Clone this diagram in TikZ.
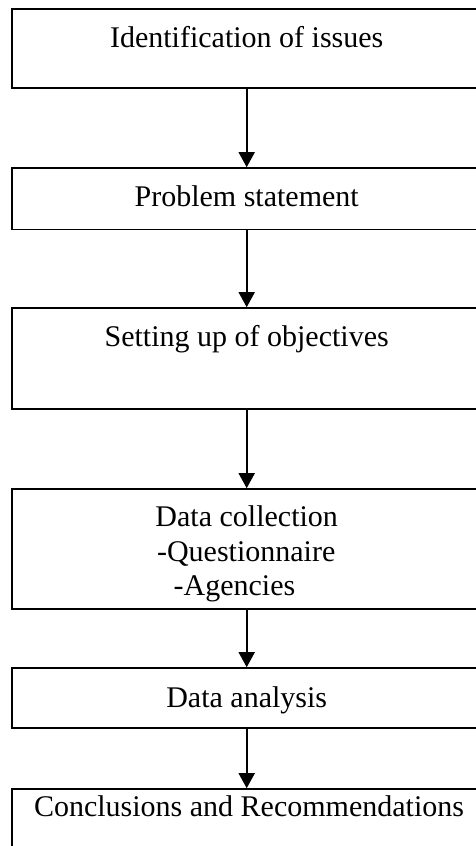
\documentclass[tikz,border=0pt]{standalone}
\usepackage{fontspec}
\setmainfont{Liberation Serif}
\usetikzlibrary{arrows.meta}
\begin{document}
\begin{tikzpicture}[x=1pt,y=-1pt,
  stagebox/.style={draw=black,line width=1.6pt,rectangle,inner sep=0pt,minimum width=470pt},
  lbl/.style={anchor=base,inner sep=0pt,font=\fontsize{30}{34}\selectfont},
  arr/.style={line width=1.6pt,-{Triangle[width=16pt,length=15pt]}}]
\useasboundingbox (0,0) rectangle (476,846);
\clip (0,0) rectangle (476,846);
\fill[white] (0,0) rectangle (476,846);
\node[stagebox,minimum height=79pt] (b1) at (246.7,48.5) {};
\node[stagebox,minimum height=61.3pt] (b2) at (246.7,198.65) {};
\node[stagebox,minimum height=101pt] (b3) at (246.7,358.5) {};
\node[stagebox,minimum height=120pt] (b4) at (246.7,549) {};
\node[stagebox,minimum height=60pt] (b5) at (246.7,698) {};
\node[stagebox,minimum height=90pt] (b6) at (246.7,834) {};
\node[lbl] (t1) at (246.7,47) {Identification of issues};
\node[lbl] (t2) at (246.7,206) {Problem statement};
\node[lbl] (t3) at (246.7,346.7) {Setting up of objectives};
\node[lbl] (t4a) at (246.7,526.7) {Data collection};
\node[lbl] (t4b) at (246.2,561.5) {-Questionnaire};
\node[lbl] (t4c) at (234.5,595) {-Agencies};
\node[lbl] (t5) at (246.7,707.3) {Data analysis};
\node[lbl] (t6) at (249,816.7) {Conclusions and Recommendations};
\draw[arr] (b1.south) -- (b2.north);
\draw[arr] (b2.south) -- (b3.north);
\draw[arr] (b3.south) -- (b4.north);
\draw[arr] (b4.south) -- (b5.north);
\draw[arr] (b5.south) -- (b6.north);
\end{tikzpicture}
\end{document}
